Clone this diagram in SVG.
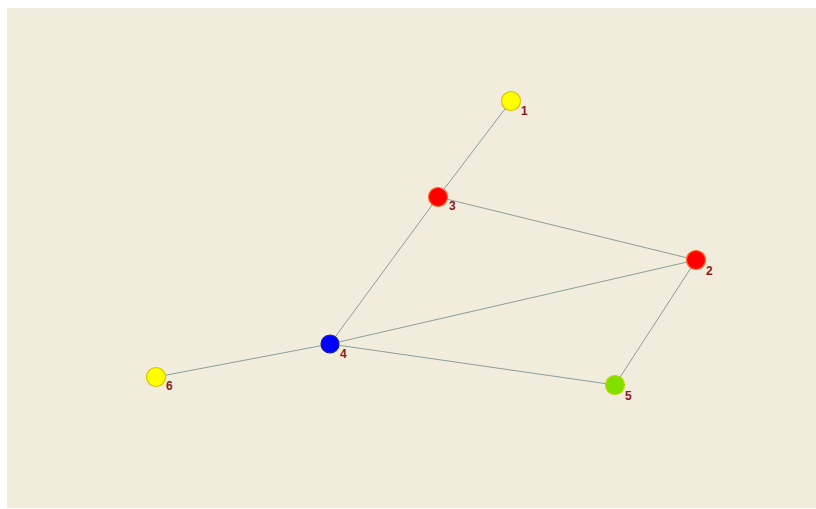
<svg xmlns="http://www.w3.org/2000/svg" width="816" height="509" viewBox="0 0 816 509">
<style>
.edge{stroke:#8a9e9c;stroke-width:1;fill:none}
.lbl{font-family:"Liberation Sans",Arial,sans-serif;font-size:12px;font-weight:bold;fill:#8b1a1a}
.yellow{fill:#ffff00;stroke:#d8c400;stroke-width:1.2}
.red{fill:#ff0000;stroke:#ff6a2a;stroke-width:1.2}
.blue{fill:#0000ff;stroke:#1a1a9a;stroke-width:1.2}
.green{fill:#80e000;stroke:#b8d800;stroke-width:1.2}
</style>
<rect x="0" y="0" width="816" height="509" fill="#ffffff"/>
<rect x="7" y="8" width="809" height="500" fill="#f2ecdc"/>
<g id="connectors">
<line class="edge" x1="511" y1="101" x2="438" y2="197"/>
<line class="edge" x1="438" y1="197" x2="696" y2="260"/>
<line class="edge" x1="438" y1="197" x2="330" y2="344"/>
<line class="edge" x1="330" y1="344" x2="696" y2="260"/>
<line class="edge" x1="330" y1="344" x2="615" y2="385"/>
<line class="edge" x1="696" y1="260" x2="615" y2="385"/>
<line class="edge" x1="330" y1="344" x2="156" y2="377"/>
</g>
<g id="node1"><circle class="yellow" cx="511" cy="101" r="9.5"/><text class="lbl" x="521" y="115">1</text></g>
<g id="node2"><circle class="red" cx="696" cy="260" r="9.5"/><text class="lbl" x="706" y="275">2</text></g>
<g id="node3"><circle class="red" cx="438" cy="197" r="9.5"/><text class="lbl" x="449" y="210">3</text></g>
<g id="node4"><circle class="blue" cx="330" cy="344" r="9"/><text class="lbl" x="340" y="358">4</text></g>
<g id="node5"><circle class="green" cx="615" cy="385" r="9.5"/><text class="lbl" x="625" y="400">5</text></g>
<g id="node6"><circle class="yellow" cx="156" cy="377" r="9.5"/><text class="lbl" x="166" y="390">6</text></g>
</svg>
